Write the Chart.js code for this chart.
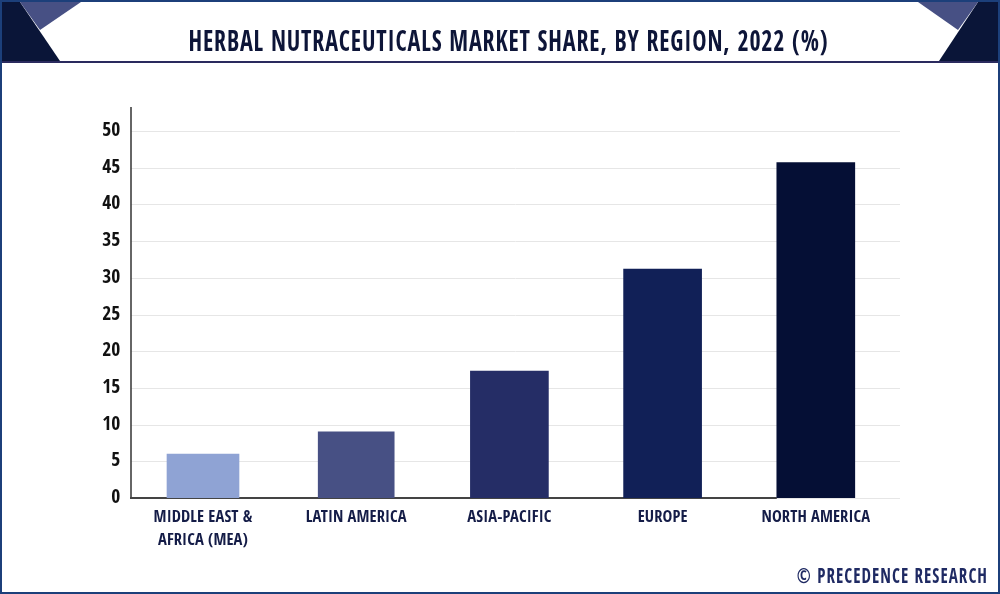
<!DOCTYPE html>
<html>
<head>
<meta charset="utf-8">
<title>Herbal Nutraceuticals Market Share</title>
<script src="https://cdn.jsdelivr.net/npm/chart.js@4"></script>
<style>
  html, body { margin: 0; padding: 0; background: #fff; }
  #page { position: relative; width: 1000px; height: 594px; overflow: hidden; background: #fff; }
  #page canvas { position: absolute; left: 0; top: 0; }
  #frame { position: absolute; left: 0; top: 0; }
  #title, #credit {
    position: absolute; white-space: nowrap;
    font-family: "Open Sans Condensed", "Roboto Condensed", sans-serif; font-weight: bold;
  }
  #title { left: 0; width: 1017px; top: 23px; text-align: center; font-size: 28px; line-height: 34px; letter-spacing: 1px; color: #0d1538; transform: scaleX(0.857); transform-origin: 508.5px 0; }
  #credit { right: 12px; top: 562px; font-size: 21px; line-height: 26px; letter-spacing: 1.3px; color: #1f2a63; transform: scaleX(0.81); transform-origin: right top; }
</style>
</head>
<body>
<div id="page">
  <canvas id="market-chart" width="1000" height="594"></canvas>
  <svg id="frame" width="1000" height="594">
    <rect x="1" y="1" width="998" height="592" fill="none" stroke="#1c3f7a" stroke-width="2"/>
    <polygon points="2,2 20,2 60,61 2,61" fill="#0a1538"/>
    <polygon points="20,2 81,2 40,30" fill="#475084"/>
    <polygon points="978,2 998,2 998,61 939,61" fill="#0a1538"/>
    <polygon points="918,2 978,2 958,30" fill="#475084"/>
    <rect x="2" y="61" width="996" height="2" fill="#2a2a5e"/>
  </svg>
  <div id="title">HERBAL NUTRACEUTICALS MARKET SHARE, BY REGION, 2022 (%)</div>
  <div id="credit">© PRECEDENCE RESEARCH</div>
</div>
<script>
var categories = [['MIDDLE EAST &', 'AFRICA (MEA)'], 'LATIN AMERICA', 'ASIA-PACIFIC', 'EUROPE', 'NORTH AMERICA'];
var shareValues = [6.0, 9.0, 17.3, 31.2, 45.7];
var yTicks = [0, 5, 10, 15, 20, 25, 30, 35, 40, 45, 50];
var barColors = ['#8fa3d4', '#475084', '#252d66', '#112057', '#050f35'];
var barWidths = [72, 76, 78, 78, 78];

var narrowFont = '"Open Sans Condensed", "Roboto Condensed", sans-serif';

// one dataset per bar, the bars in the picture are not all the same width
var datasets = shareValues.map(function (v, i) {
  return {
    label: 'Share',
    data: shareValues.map(function (d, j) { return j === i ? d : null; }),
    backgroundColor: barColors[i],
    barThickness: barWidths[i]
  };
});

// axis lines and grid run wider than the category band, so they are drawn here
var axesPlugin = {
  id: 'axesPlugin',
  beforeDraw: function (chart) {
    chart.ctx.letterSpacing = '0.1px';
  },
  beforeDatasetsDraw: function (chart) {
    var ctx = chart.ctx;
    var y = chart.scales.y;
    var x = chart.scales.x;
    ctx.save();
    ctx.strokeStyle = '#e6e6e6';
    ctx.lineWidth = 1;
    yTicks.forEach(function (t) {
      var py = Math.round(y.getPixelForValue(t)) + 0.5;
      ctx.beginPath();
      ctx.moveTo(131, py);
      ctx.lineTo(900, py);
      ctx.stroke();
    });
    ctx.strokeStyle = '#333';
    ctx.lineWidth = 1.5;
    ctx.beginPath();
    ctx.moveTo(131, y.top);
    ctx.lineTo(131, y.bottom + 1);
    ctx.stroke();
    ctx.lineWidth = 2;
    ctx.strokeStyle = '#444';
    ctx.beginPath();
    ctx.moveTo(130, y.bottom);
    ctx.lineTo(x.getPixelForValue(4) - 39, y.bottom);
    ctx.stroke();
    ctx.restore();
  }
};

var marketChart = new Chart(document.getElementById('market-chart'), {
  type: 'bar',
  data: { labels: categories, datasets: datasets },
  plugins: [axesPlugin],
  options: {
    responsive: false,
    animation: false,
    layout: { padding: { left: 0, top: 107, right: 107.6, bottom: 0 } },
    plugins: { legend: { display: false }, title: { display: false }, tooltip: { enabled: false } },
    scales: {
      x: {
        stacked: true,
        grid: { display: false, drawTicks: false },
        border: { display: false },
        afterFit: function (axis) { axis.height = 96; },
        ticks: {
          padding: 8,
          maxRotation: 0,
          autoSkip: false,
          color: '#141c47',
          font: { family: narrowFont, size: 16.5, weight: 'bold', lineHeight: 1.4 }
        }
      },
      y: {
        stacked: true,
        min: 0,
        max: 53.27,
        grid: { display: false, drawTicks: false },
        border: { display: false },
        afterFit: function (axis) { axis.width = 126.4; },
        afterBuildTicks: function (axis) {
          axis.ticks = yTicks.map(function (v) { return { value: v }; });
        },
        ticks: {
          padding: 6,
          color: '#111',
          font: { family: narrowFont, size: 19.5, weight: 'bold' }
        }
      }
    }
  }
});
</script>
</body>
</html>
